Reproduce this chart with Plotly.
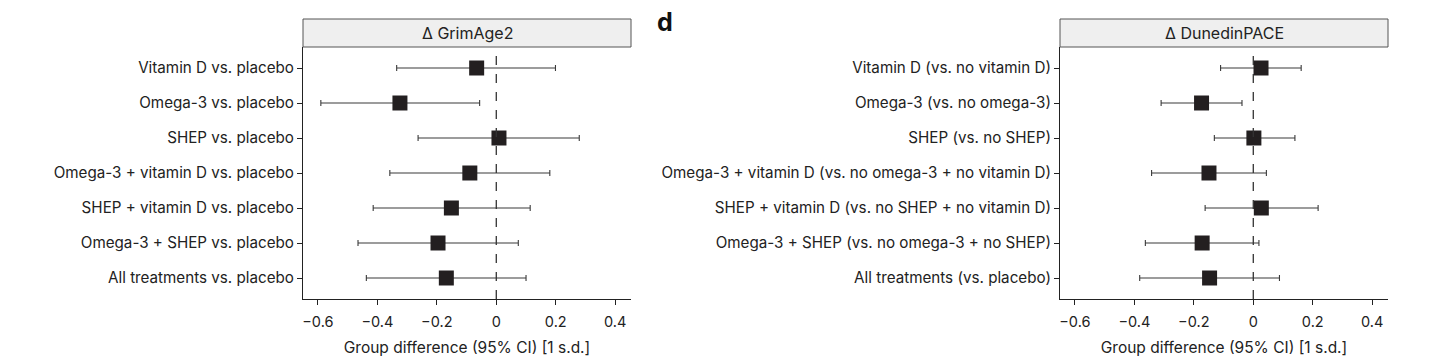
import plotly.graph_objects as go

# ---- data ----
labels_left = [
    "Vitamin D vs. placebo",
    "Omega-3 vs. placebo",
    "SHEP vs. placebo",
    "Omega-3 + vitamin D vs. placebo",
    "SHEP + vitamin D vs. placebo",
    "Omega-3 + SHEP vs. placebo",
    "All treatments vs. placebo",
]
est_left = [-0.066, -0.324, 0.009, -0.089, -0.151, -0.196, -0.168]
lo_left = [-0.335, -0.590, -0.263, -0.358, -0.414, -0.465, -0.437]
hi_left = [0.199, -0.056, 0.279, 0.180, 0.114, 0.074, 0.100]

labels_right = [
    "Vitamin D (vs. no vitamin D)",
    "Omega-3 (vs. no omega-3)",
    "SHEP (vs. no SHEP)",
    "Omega-3 + vitamin D (vs. no omega-3 + no vitamin D)",
    "SHEP + vitamin D (vs. no SHEP + no vitamin D)",
    "Omega-3 + SHEP (vs. no omega-3 + no SHEP)",
    "All treatments (vs. placebo)",
]
est_right = [0.026, -0.174, 0.002, -0.149, 0.027, -0.172, -0.147]
lo_right = [-0.110, -0.310, -0.131, -0.342, -0.162, -0.363, -0.382]
hi_right = [0.161, -0.038, 0.140, 0.044, 0.218, 0.019, 0.088]

x_ticks = [-0.6, -0.4, -0.2, 0, 0.2, 0.4]
x_ticktext = ["\u22120.6", "\u22120.4", "\u22120.2", "0", "0.2", "0.4"]
titles = ["\u0394 GrimAge2", "\u0394 DunedinPACE"]
x_title = "Group difference (95% CI) [1 s.d.]"

FONT = "Inter, Roboto, sans-serif"
OFF = 8  # page body margin
W, H = 1456 - OFF, 364 - OFF


def px_x(x):
    return (x - OFF) / W


def px_y(y):
    return (H - (y - OFF)) / H


fig = go.Figure()

panels = [
    (labels_left, est_left, lo_left, hi_left, "x", "y"),
    (labels_right, est_right, lo_right, hi_right, "x2", "y2"),
]
for labels, est, lo, hi, xa, ya in panels:
    ypos = list(range(1, len(labels) + 1))
    fig.add_trace(go.Scatter(
        x=est, y=ypos, mode="markers", xaxis=xa, yaxis=ya,
        marker=dict(symbol="square", size=15, color="#231f20"),
        error_x=dict(
            type="data", symmetric=False,
            array=[h - e for h, e in zip(hi, est)],
            arrayminus=[e - l for e, l in zip(est, lo)],
            thickness=1.1, width=3, color="#3a3a3a",
        ),
        showlegend=False, hoverinfo="skip",
    ))

doms_x = [[px_x(303), px_x(631)], [px_x(1060), px_x(1388)]]
y_dom = [px_y(299), px_y(47)]
xr = [-0.65, 0.453]

axis_common_x = dict(
    range=xr, tickvals=x_ticks, ticktext=x_ticktext,
    showline=True, linecolor="#222", linewidth=1, mirror=False,
    ticks="outside", ticklen=5, tickcolor="#222", showgrid=False, zeroline=False,
    ticklabelstandoff=5,
    tickfont=dict(family=FONT, size=14.5, color="#222"),
    title=dict(text=x_title, font=dict(family=FONT, size=15.5, color="#222"), standoff=12),
)
for i, (labels, *_rest) in enumerate(panels):
    sx = "" if i == 0 else str(i + 1)
    fig.layout["xaxis" + sx] = dict(axis_common_x, domain=doms_x[i], anchor="y" + sx)
    fig.layout["yaxis" + sx] = dict(
        domain=y_dom, anchor="x" + sx, range=[7.6, 0.4],
        tickvals=list(range(1, 8)), ticktext=labels,
        showline=True, linecolor="#222", linewidth=1,
        ticks="outside", ticklen=5, tickcolor="#222", showgrid=False, zeroline=False,
        tickfont=dict(family=FONT, size=15.2, color="#222"),
    )
    # dashed zero line
    fig.add_shape(type="line", xref="x" + sx, yref="paper",
                  x0=0, x1=0, y0=y_dom[0], y1=y_dom[1],
                  line=dict(color="#333", width=1.3, dash="dash"))
    # strip header
    fig.add_shape(type="rect", xref="paper", yref="paper",
                  x0=doms_x[i][0], x1=doms_x[i][1],
                  y0=px_y(47), y1=px_y(19),
                  fillcolor="#efefef", line=dict(color="#555", width=1))
    fig.add_annotation(xref="paper", yref="paper",
                       x=(doms_x[i][0] + doms_x[i][1]) / 2, y=px_y(33),
                       text=titles[i], showarrow=False,
                       font=dict(family=FONT, size=16, color="#222"),
                       xanchor="center", yanchor="middle")

fig.add_annotation(xref="paper", yref="paper", x=px_x(655), y=px_y(22),
                   text="<b>d</b>", showarrow=False,
                   font=dict(family=FONT, size=25, color="#111"),
                   xanchor="left", yanchor="middle")

fig.update_layout(
    width=W, height=H, margin=dict(l=0, r=0, t=0, b=0),
    paper_bgcolor="white", plot_bgcolor="white",
    font=dict(family=FONT, color="#222"),
)
fig.write_html("out.html")
